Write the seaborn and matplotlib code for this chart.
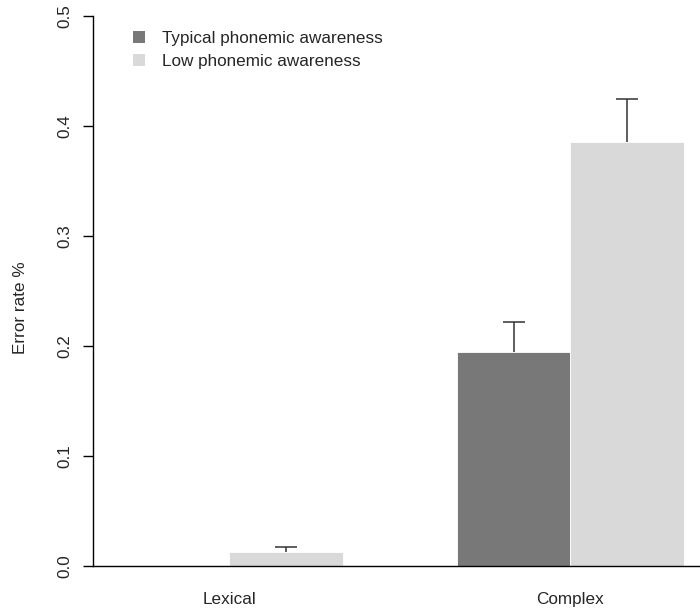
import matplotlib
matplotlib.use("Agg")
import matplotlib.pyplot as plt
import seaborn as sns
import pandas as pd

categories = ["Lexical", "Complex"]
groups = ["Typical phonemic awareness", "Low phonemic awareness"]
typical_rate = [0.0, 0.1945]
low_rate = [0.0127, 0.3855]
typical_err = [0.0, 0.0275]
low_err = [0.0043, 0.039]
y_ticks = [0.0, 0.1, 0.2, 0.3, 0.4, 0.5]
colors = ["#787878", "#d9d9d9"]

df = pd.DataFrame({
    "condition": categories * 2,
    "group": [groups[0]] * 2 + [groups[1]] * 2,
    "rate": typical_rate + low_rate,
})
errs = {groups[0]: typical_err, groups[1]: low_err}

sns.set_style("ticks")
plt.rcParams["font.family"] = ["Liberation Sans", "DejaVu Sans"]
FS = 12.3

fig = plt.figure(figsize=(7.0, 6.09), dpi=100)
ax = fig.add_axes([93 / 700, 43 / 609, 607 / 700, 550 / 609])

sns.barplot(data=df, x="condition", y="rate", hue="group", order=categories,
            hue_order=groups, palette=colors, width=2 / 3, errorbar=None,
            saturation=1, edgecolor="white", linewidth=0.6, ax=ax)

for cont, g in zip(ax.containers, groups):
    for p, e in zip(cont.patches, errs[g]):
        if e <= 0:
            continue
        x = p.get_x() + p.get_width() / 2
        y = p.get_height()
        eb = ax.errorbar([x], [y], yerr=[[0], [e]], fmt="none", ecolor="#333333",
                         elinewidth=1.1, capsize=8, capthick=1.1)
        caps = eb.lines[1]
        if len(caps) > 1:
            caps[0].set_visible(False)

ax.set_xlim(-0.4, 1.38)
ax.set_ylim(0, 0.5)
ax.set_yticks(y_ticks)
ax.set_yticklabels([f"{t:.1f}" for t in y_ticks])
for lab in ax.get_yticklabels():
    lab.set_rotation(90)
    lab.set_va("center")
ax.tick_params(axis="y", length=7.2, width=1, pad=8, labelsize=FS, color="black")
ax.tick_params(axis="x", length=0, pad=19, labelsize=FS)
ax.set_xlabel("")
ax.set_ylabel("Error rate %", fontsize=FS, va="center")
ax.yaxis.set_label_coords(-0.12, 0.47)

sns.despine(ax=ax)
for s in ["left", "bottom"]:
    ax.spines[s].set_linewidth(1.0)
    ax.spines[s].set_color("black")

leg = ax.legend(frameon=False, loc="upper left", bbox_to_anchor=(0.066, 0.972),
                borderaxespad=0, borderpad=0, fontsize=FS, handlelength=0.7,
                handleheight=0.7, handletextpad=1.0, labelspacing=0.45)
for h in leg.legend_handles:
    h.set_edgecolor("none")

fig.savefig("out.png", dpi=100)
